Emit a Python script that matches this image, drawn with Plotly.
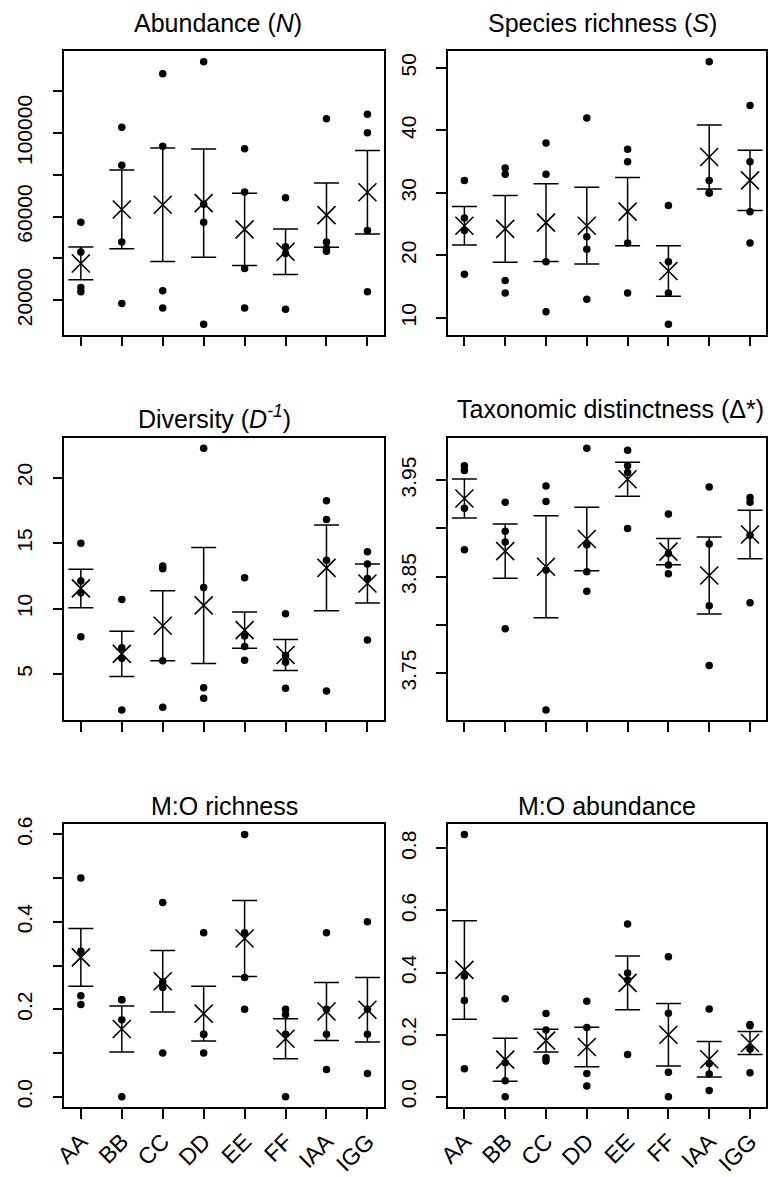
import numpy as np
import plotly.graph_objects as go

sites = ["AA", "BB", "CC", "DD", "EE", "FF", "IAA", "IGG"]

abundance = [
    [57300, 43000, 26000, 24000],
    [102800, 84600, 47900, 18400],
    [128400, 93700, 24500, 16200],
    [134200, 65900, 57300, 8500],
    [92500, 71800, 35200, 16200],
    [69100, 45600, 42400, 15600],
    [106900, 47900, 44800, 43400],
    [109100, 100200, 53400, 24000],
]
richness = [
    [32, 26, 24, 17],
    [34, 33, 16, 14],
    [38, 33, 19, 11],
    [42, 23, 21, 13],
    [37, 35, 22, 14],
    [28, 19, 14, 9],
    [51, 32, 30, 30],
    [44, 35, 27, 22],
]
diversity = [
    [15.0, 12.1, 11.2, 7.85],
    [10.7, 7.0, 6.2, 2.25],
    [13.25, 13.05, 6.0, 2.45],
    [22.25, 11.6, 3.95, 3.15],
    [12.35, 7.9, 7.1, 6.05],
    [9.6, 6.4, 5.9, 3.9],
    [18.25, 16.8, 13.7, 3.7],
    [14.35, 13.4, 12.3, 7.6],
]
distinctness = [
    [3.965, 3.960, 3.921, 3.878],
    [3.927, 3.897, 3.886, 3.796],
    [3.944, 3.928, 3.857, 3.712],
    [3.983, 3.883, 3.855, 3.835],
    [3.981, 3.965, 3.958, 3.900],
    [3.915, 3.874, 3.862, 3.853],
    [3.943, 3.884, 3.820, 3.758],
    [3.932, 3.927, 3.893, 3.823],
]
mo_richness = [
    [0.500, 0.333, 0.231, 0.211],
    [0.222, 0.222, 0.176, 0.0],
    [0.444, 0.263, 0.250, 0.100],
    [0.375, 0.143, 0.143, 0.100],
    [0.600, 0.375, 0.273, 0.200],
    [0.200, 0.188, 0.143, 0.0],
    [0.375, 0.200, 0.143, 0.0625],
    [0.400, 0.200, 0.143, 0.053],
]
mo_abundance = [
    [0.845, 0.389, 0.310, 0.090],
    [0.316, 0.110, 0.052, 0.0],
    [0.268, 0.215, 0.126, 0.115],
    [0.308, 0.223, 0.075, 0.035],
    [0.556, 0.399, 0.376, 0.136],
    [0.451, 0.269, 0.079, 0.0],
    [0.283, 0.107, 0.073, 0.020],
    [0.233, 0.229, 0.154, 0.077],
]

# labelled ticks and unlabelled (minor) ticks per panel
abund_ticks = [20000, 60000, 100000]
abund_labels = ["20000", "60000", "100000"]
abund_minor = [40000, 80000, 120000]
rich_ticks = [10, 20, 30, 40, 50]
rich_labels = ["10", "20", "30", "40", "50"]
rich_minor = []
div_ticks = [5, 10, 15, 20]
div_labels = ["5", "10", "15", "20"]
div_minor = []
dist_ticks = [3.75, 3.85, 3.95]
dist_labels = ["3.75", "3.85", "3.95"]
dist_minor = [3.80, 3.90]
mor_ticks = [0.0, 0.2, 0.4, 0.6]
mor_labels = ["0.0", "0.2", "0.4", "0.6"]
mor_minor = [0.1, 0.3, 0.5]
moa_ticks = [0.0, 0.2, 0.4, 0.6, 0.8]
moa_labels = ["0.0", "0.2", "0.4", "0.6", "0.8"]
moa_minor = []

titles = [
    "Abundance (<i>N</i>)",
    "Species richness (<i>S</i>)",
    "Diversity (<i>D</i><sup><i>-1</i></sup>)",
    "Taxonomic distinctness (Δ*)",
    "M:O richness",
    "M:O abundance",
]

panels = [
    (abundance, abund_ticks, abund_labels, abund_minor),
    (richness, rich_ticks, rich_labels, rich_minor),
    (diversity, div_ticks, div_labels, div_minor),
    (distinctness, dist_ticks, dist_labels, dist_minor),
    (mo_richness, mor_ticks, mor_labels, mor_minor),
    (mo_abundance, moa_ticks, moa_labels, moa_minor),
]

W, H = 768, 1177
xdom = [[53.3 / W, 377.7 / W], [443 / W, 766.3 / W]]
ydom = [
    [1 - 333.3 / H, 1 - 45 / H],
    [1 - 725.7 / H, 1 - 438.3 / H],
    [1 - 1119.3 / H, 1 - 831 / H],
]
title_x = [209, 600, 206, 608, 215.5, 604.8]
title_y = [16, 16, 417, 409, 813, 813]

FONT = "Liberation Sans, Arial, Helvetica, sans-serif"

fig = go.Figure()
layout = dict(
    width=W, height=H, margin=dict(l=0, r=0, t=0, b=0),
    paper_bgcolor="white", plot_bgcolor="white", showlegend=False,
    font=dict(family=FONT, color="black"),
    annotations=[],
)

xpos = np.arange(1, len(sites) + 1)

for i, (data, tv, tt, mv) in enumerate(panels):
    row, col = divmod(i, 2)
    suffix = "" if i == 0 else str(i + 1)
    arr = np.array(data, dtype=float)
    means = arr.mean(axis=1)
    se = arr.std(axis=1, ddof=1) / np.sqrt(arr.shape[1])
    lo, hi = arr.min(), arr.max()
    pad = 0.04 * (hi - lo)

    xs = np.repeat(xpos, arr.shape[1])
    fig.add_trace(go.Scatter(
        x=xs, y=arr.flatten(), mode="markers",
        marker=dict(symbol="circle", size=7.5, color="black"),
        xaxis="x" + suffix, yaxis="y" + suffix, hoverinfo="skip",
    ))
    fig.add_trace(go.Scatter(
        x=xpos, y=means, mode="markers",
        marker=dict(symbol="x-thin", size=18, color="black",
                    line=dict(width=1.6, color="black")),
        error_y=dict(type="data", array=se, visible=True, color="black",
                     thickness=1.5, width=12.5),
        xaxis="x" + suffix, yaxis="y" + suffix, hoverinfo="skip",
    ))

    layout["xaxis" + suffix] = dict(
        domain=xdom[col], anchor="y" + suffix, range=[0.6, 8.4],
        tickmode="array", tickvals=list(xpos), ticktext=sites,
        showticklabels=(row == 2), tickangle=-45,
        tickfont=dict(size=23, color="black", family=FONT),
        ticks="outside", ticklen=10, tickwidth=1.5, tickcolor="black",
        showline=True, mirror=True, linecolor="black", linewidth=1.5,
        showgrid=False, zeroline=False,
    )
    ya = dict(
        domain=ydom[row], anchor="x" + suffix, range=[lo - pad, hi + pad],
        tickmode="array", tickvals=tv, ticktext=tt, tickangle=-90,
        tickfont=dict(size=21, color="black", family=FONT),
        ticklabelstandoff=12,
        ticks="outside", ticklen=10, tickwidth=1.5, tickcolor="black",
        showline=True, mirror=True, linecolor="black", linewidth=1.5,
        showgrid=False, zeroline=False,
    )
    if mv:
        ya["minor"] = dict(tickmode="array", tickvals=mv, ticks="outside",
                           ticklen=10, tickwidth=1.5, tickcolor="black",
                           showgrid=False)
    layout["yaxis" + suffix] = ya
    layout["annotations"].append(dict(
        text=titles[i], x=title_x[i] / W, y=1 - title_y[i] / H,
        xref="paper", yref="paper", xanchor="center", yanchor="middle",
        showarrow=False, font=dict(size=25, color="black", family=FONT),
    ))

fig.update_layout(**layout)
fig.write_html("out.html")
